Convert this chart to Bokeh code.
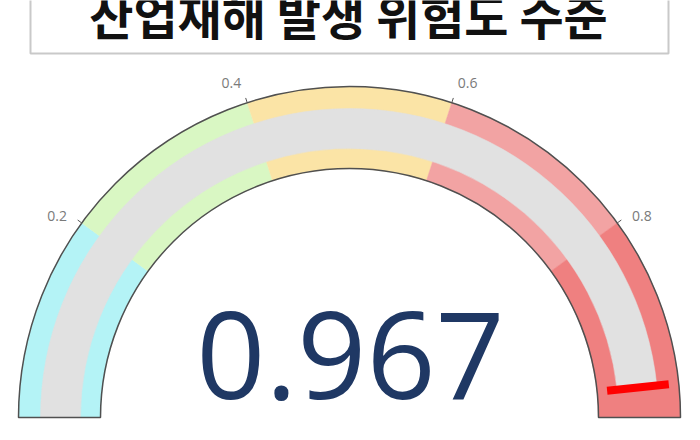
import numpy as np
from bokeh.plotting import figure
from bokeh.models import Range1d, ColumnDataSource
from bokeh.core.properties import value as pv
from bokeh.embed import file_html
from bokeh.resources import INLINE

# ---- data ----
title_text = "산업재해 발생 위험도 수준"
gauge_min = 0.0
gauge_max = 1.0
step_start = [0.0, 0.2, 0.4, 0.6, 0.8]
step_end = [0.2, 0.4, 0.6, 0.8, 1.0]
step_colors = ["#b4f3f6", "#d9f7c3", "#fbe4a6", "#f2a3a3", "#ef8080"]
gauge_value = 0.967
threshold_value = 0.967
tick_values = [0.2, 0.4, 0.6, 0.8]
tick_labels = ["0.2", "0.4", "0.6", "0.8"]

# ---- geometry (layout, in pixels; y measured upward) ----
CX, CY = 349, 23
R_IN, R_OUT = 249, 331
BAR_IN, BAR_OUT = 269, 309
TH_IN, TH_OUT = 259, 321


def ang(v):
    return np.pi * (1 - (np.asarray(v, dtype=float) - gauge_min) / (gauge_max - gauge_min))


p = figure(width=684, height=424, x_range=Range1d(0, 684), y_range=Range1d(16, 440),
           output_backend="svg", toolbar_location=None,
           x_axis_location=None, y_axis_location=None, min_border=0)
p.grid.visible = False
p.outline_line_color = None
p.background_fill_color = "white"
p.border_fill_color = "white"

# title box
p.quad(left=30, right=668, bottom=387, top=470, fill_color="white",
       line_color="#c9c9c9", line_width=2)
p.text(x=[348], y=[427], text=[title_text], text_align="center",
       text_baseline="alphabetic", text_font=pv("Noto Sans CJK KR"),
       text_font_style="bold", text_font_size="48px", text_color="#111111")

# steps
steps = ColumnDataSource(dict(start=ang(step_end), end=ang(step_start), color=step_colors))
p.annular_wedge(x=CX, y=CY, inner_radius=R_IN, outer_radius=R_OUT,
                start_angle="start", end_angle="end", fill_color="color",
                line_color="color", line_width=0.5, source=steps)

# value bar
p.annular_wedge(x=CX, y=CY, inner_radius=BAR_IN, outer_radius=BAR_OUT,
                start_angle=float(ang(gauge_value)), end_angle=float(ang(gauge_min)),
                fill_color="#e1e1e1", line_color="#e1e1e1", line_width=0.5)

# threshold
ta = float(ang(threshold_value))
p.segment(x0=[CX + TH_IN * np.cos(ta)], y0=[CY + TH_IN * np.sin(ta)],
          x1=[CX + TH_OUT * np.cos(ta)], y1=[CY + TH_OUT * np.sin(ta)],
          line_color="#ff0000", line_width=8)

# border
p.annular_wedge(x=CX, y=CY, inner_radius=R_IN, outer_radius=R_OUT,
                start_angle=0, end_angle=np.pi, fill_alpha=0,
                line_color="#505050", line_width=1.5)

# ticks
ta_ticks = ang(tick_values)
p.segment(x0=CX + R_OUT * np.cos(ta_ticks), y0=CY + R_OUT * np.sin(ta_ticks),
          x1=CX + (R_OUT + 5) * np.cos(ta_ticks), y1=CY + (R_OUT + 5) * np.sin(ta_ticks),
          line_color="#555555", line_width=1)
la = ta_ticks - 0.025 * np.sign(np.cos(ta_ticks))
p.text(x=CX + 355 * np.cos(la), y=CY + 355 * np.sin(la), text=tick_labels,
       text_align="center", text_baseline="middle", text_font=pv("Open Sans"),
       text_font_size="14px", text_color="#7a7a7a")

# number
p.text(x=[350], y=[85], text=[f"{gauge_value:.3f}"], text_align="center",
       text_baseline="alphabetic", text_font=pv("Open Sans"),
       text_font_size="121px", text_color="#1f3864")

open("out.html", "w").write(file_html(p, INLINE))
